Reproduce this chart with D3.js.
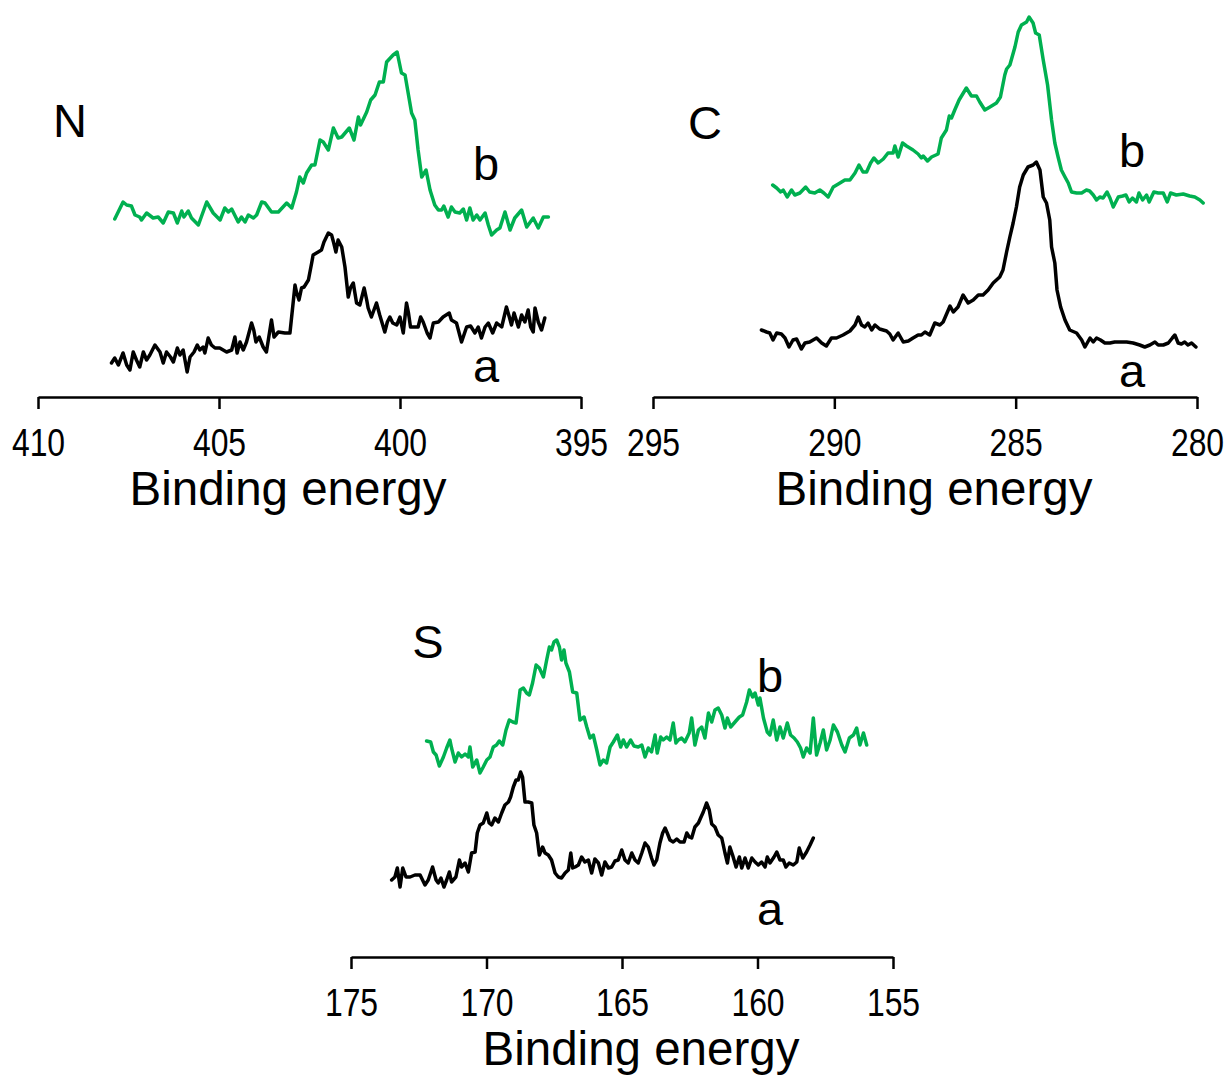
<!DOCTYPE html>
<html>
<head>
<meta charset="utf-8">
<script src="https://cdn.jsdelivr.net/npm/d3@7"></script>
<style>
  html, body { margin: 0; padding: 0; background: #fff; }
  svg { display: block; }
  text { font-family: "Liberation Sans", Arial, sans-serif; fill: #000; }
</style>
</head>
<body>
<svg id="chart" width="1228" height="1080"></svg>
<script>
// ---------- data: [binding energy (eV), intensity (a.u., offset included)] ----------
const nTicks = [410, 405, 400, 395];
const cTicks = [295, 290, 285, 280];
const sTicks = [175, 170, 165, 160, 155];

const nSeriesB = [[407.88,178],[407.65,195],[407.55,192],[407.42,191],[407.32,182],[407.19,180],[407.14,177],[407.00,184],[406.82,179],[406.68,180],[406.54,174],[406.40,185],[406.26,184],[406.15,174],[406.03,186],[405.97,180],[405.85,186],[405.76,179],[405.57,172],[405.34,195],[405.16,184],[404.97,177],[404.84,189],[404.74,185],[404.65,188],[404.47,175],[404.38,180],[404.28,175],[404.19,182],[404.05,179],[403.96,182],[403.82,195],[403.73,194],[403.55,185],[403.36,185],[403.13,194],[402.99,189],[402.86,205],[402.77,220],[402.67,214],[402.58,224],[402.44,232],[402.35,232],[402.21,257],[402.12,255],[401.98,247],[401.84,269],[401.71,259],[401.61,260],[401.40,269],[401.27,257],[401.15,280],[401.09,272],[400.92,285],[400.81,297],[400.69,302],[400.57,315],[400.46,315],[400.37,335],[400.19,342],[400.08,345],[399.96,324],[399.86,322],[399.68,284],[399.59,277],[399.50,247],[399.40,220],[399.28,227],[399.17,207],[399.04,192],[398.94,187],[398.85,187],[398.79,191],[398.67,180],[398.58,190],[398.48,185],[398.35,184],[398.25,188],[398.16,177],[398.07,189],[397.98,177],[397.88,182],[397.79,177],[397.65,184],[397.56,172],[397.47,162],[397.33,167],[397.24,169],[397.10,185],[396.96,167],[396.83,179],[396.64,187],[396.50,170],[396.32,179],[396.18,169],[396.04,180],[395.90,180]];

const nSeriesA = [[407.97,34],[407.88,39],[407.78,32],[407.65,44],[407.55,32],[407.46,27],[407.37,45],[407.28,37],[407.19,30],[407.09,45],[407.00,37],[406.91,42],[406.77,52],[406.63,45],[406.54,34],[406.45,45],[406.34,40],[406.26,35],[406.15,49],[406.08,42],[405.99,47],[405.88,25],[405.80,40],[405.69,45],[405.60,52],[405.53,47],[405.44,50],[405.39,44],[405.30,59],[405.21,52],[405.11,49],[404.98,49],[404.79,45],[404.65,47],[404.56,60],[404.50,44],[404.42,55],[404.33,47],[404.24,55],[404.10,74],[404.04,67],[403.98,55],[403.89,60],[403.78,50],[403.69,45],[403.55,77],[403.48,60],[403.36,65],[403.18,64],[403.04,64],[402.90,112],[402.86,105],[402.79,97],[402.72,109],[402.65,110],[402.53,117],[402.44,134],[402.40,142],[402.26,145],[402.17,147],[402.10,155],[401.98,164],[401.89,162],[401.83,154],[401.77,145],[401.71,157],[401.61,150],[401.52,130],[401.43,100],[401.37,109],[401.29,114],[401.25,105],[401.20,94],[401.11,92],[400.99,109],[400.92,97],[400.88,89],[400.79,80],[400.65,94],[400.56,82],[400.42,65],[400.35,75],[400.28,80],[400.20,74],[400.09,72],[400.00,80],[399.91,64],[399.82,94],[399.77,85],[399.71,70],[399.59,70],[399.50,70],[399.43,80],[399.36,75],[399.25,64],[399.17,59],[399.08,74],[398.94,75],[398.81,80],[398.64,84],[398.58,77],[398.44,74],[398.30,55],[398.16,70],[398.05,71],[397.93,64],[397.84,70],[397.75,59],[397.65,70],[397.56,74],[397.44,64],[397.33,74],[397.19,70],[397.06,90],[396.98,80],[396.92,72],[396.85,84],[396.73,70],[396.64,82],[396.55,75],[396.46,87],[396.39,70],[396.32,65],[396.27,89],[396.18,75],[396.09,67],[396.00,79]];

const cSeriesB = [[291.70,212],[291.59,209],[291.48,205],[291.41,207],[291.30,200],[291.18,207],[291.09,202],[290.95,204],[290.79,210],[290.68,205],[290.54,204],[290.40,207],[290.29,204],[290.17,200],[290.03,210],[289.89,213],[289.71,217],[289.57,217],[289.43,224],[289.32,232],[289.21,225],[289.11,225],[289.00,234],[288.91,239],[288.79,234],[288.65,238],[288.52,244],[288.38,244],[288.33,251],[288.24,240],[288.12,254],[288.01,251],[287.83,247],[287.69,243],[287.60,239],[287.55,241],[287.43,236],[287.32,240],[287.14,243],[287.05,259],[286.91,267],[286.83,281],[286.77,279],[286.68,287],[286.56,297],[286.36,309],[286.22,301],[286.08,301],[285.99,295],[285.85,287],[285.71,290],[285.53,294],[285.42,300],[285.30,322],[285.25,328],[285.16,332],[285.02,350],[284.93,365],[284.84,372],[284.70,375],[284.63,380],[284.52,374],[284.45,364],[284.35,362],[284.24,337],[284.12,312],[284.01,277],[283.92,254],[283.83,240],[283.74,227],[283.64,220],[283.55,214],[283.46,205],[283.32,204],[283.18,204],[283.05,207],[282.96,206],[282.86,202],[282.77,197],[282.68,200],[282.59,199],[282.48,205],[282.40,199],[282.31,190],[282.17,200],[282.05,201],[281.96,202],[281.87,195],[281.78,199],[281.67,195],[281.60,204],[281.50,197],[281.39,202],[281.32,195],[281.19,205],[281.07,204],[280.93,204],[280.82,195],[280.73,204],[280.57,202],[280.38,203],[280.20,201],[280.06,200],[279.92,197],[279.83,194]];

const cSeriesA = [[292.01,67],[291.87,65],[291.78,64],[291.69,57],[291.59,64],[291.46,63],[291.36,59],[291.25,50],[291.14,57],[291.04,58],[290.91,48],[290.81,54],[290.68,55],[290.49,59],[290.35,54],[290.22,51],[290.08,59],[289.94,59],[289.76,62],[289.57,66],[289.43,72],[289.34,80],[289.25,72],[289.16,70],[289.07,74],[288.97,67],[288.88,72],[288.75,68],[288.56,66],[288.47,63],[288.38,57],[288.24,64],[288.10,55],[287.96,56],[287.83,59],[287.69,62],[287.60,62],[287.50,65],[287.37,62],[287.23,74],[287.09,72],[287.00,75],[286.81,91],[286.72,85],[286.59,90],[286.45,102],[286.31,94],[286.17,97],[286.03,102],[285.90,102],[285.76,107],[285.62,114],[285.44,120],[285.35,127],[285.25,145],[285.16,160],[285.07,174],[284.98,190],[284.89,210],[284.79,222],[284.66,230],[284.52,232],[284.43,235],[284.33,227],[284.24,200],[284.15,194],[284.06,177],[284.01,150],[283.92,134],[283.86,107],[283.76,90],[283.64,77],[283.51,67],[283.32,64],[283.18,57],[283.09,50],[282.95,59],[282.86,55],[282.77,59],[282.66,57],[282.54,54],[282.40,54],[282.27,55],[282.13,55],[281.94,55],[281.76,54],[281.58,52],[281.44,50],[281.30,52],[281.16,55],[281.07,52],[280.93,52],[280.79,54],[280.68,59],[280.61,62],[280.52,54],[280.43,53],[280.34,55],[280.25,52],[280.15,54],[280.03,50]];

const sSeriesB = [[172.21,216],[172.06,215],[171.96,205],[171.86,202],[171.74,191],[171.59,200],[171.47,209],[171.35,217],[171.29,209],[171.16,195],[171.04,204],[170.92,200],[170.79,203],[170.67,200],[170.61,210],[170.51,190],[170.36,197],[170.24,184],[170.12,190],[169.99,197],[169.87,200],[169.75,210],[169.63,212],[169.53,216],[169.40,212],[169.28,227],[169.16,237],[169.03,235],[168.91,234],[168.76,267],[168.64,269],[168.52,264],[168.42,262],[168.30,274],[168.17,292],[168.05,289],[167.90,280],[167.78,297],[167.68,310],[167.60,307],[167.51,315],[167.41,317],[167.31,310],[167.23,297],[167.14,307],[167.07,294],[166.94,285],[166.82,265],[166.67,264],[166.55,237],[166.40,240],[166.30,230],[166.18,219],[166.06,222],[165.93,207],[165.81,192],[165.69,197],[165.57,194],[165.44,210],[165.32,215],[165.17,222],[165.05,210],[164.95,217],[164.83,210],[164.68,217],[164.56,211],[164.40,210],[164.27,212],[164.15,200],[164.03,209],[163.91,205],[163.78,222],[163.70,204],[163.57,220],[163.48,217],[163.35,220],[163.23,217],[163.11,234],[163.01,214],[162.92,217],[162.80,219],[162.68,215],[162.52,224],[162.43,239],[162.31,212],[162.18,227],[162.06,230],[161.94,219],[161.81,244],[161.69,235],[161.57,247],[161.45,249],[161.32,242],[161.20,229],[161.11,239],[160.99,230],[160.83,235],[160.67,240],[160.55,242],[160.40,255],[160.30,267],[160.18,260],[160.09,264],[159.97,252],[159.91,259],[159.78,239],[159.64,225],[159.54,222],[159.42,237],[159.29,217],[159.17,230],[159.05,219],[158.90,234],[158.78,222],[158.65,219],[158.53,215],[158.41,209],[158.31,200],[158.19,209],[158.06,204],[157.94,239],[157.82,202],[157.69,214],[157.57,227],[157.45,207],[157.32,217],[157.20,232],[157.05,225],[156.89,212],[156.77,205],[156.61,219],[156.46,222],[156.34,229],[156.22,212],[156.09,224],[155.97,212]];

const sSeriesA = [[173.50,77],[173.38,80],[173.29,89],[173.19,70],[173.09,89],[172.97,80],[172.82,80],[172.64,82],[172.45,82],[172.27,72],[172.15,77],[171.99,90],[171.86,77],[171.78,74],[171.68,79],[171.57,70],[171.47,77],[171.37,85],[171.29,75],[171.13,80],[171.00,97],[170.92,90],[170.79,94],[170.67,85],[170.55,104],[170.42,105],[170.34,124],[170.24,132],[170.12,134],[169.99,144],[169.90,134],[169.81,132],[169.69,139],[169.56,135],[169.44,144],[169.32,152],[169.19,155],[169.11,160],[169.01,170],[168.91,177],[168.83,177],[168.74,185],[168.67,180],[168.58,155],[168.46,155],[168.33,154],[168.25,132],[168.15,124],[168.05,102],[167.93,110],[167.84,104],[167.72,102],[167.60,97],[167.47,84],[167.35,80],[167.23,79],[167.10,84],[166.98,87],[166.89,104],[166.82,89],[166.73,90],[166.61,92],[166.49,100],[166.37,95],[166.24,97],[166.12,84],[166.00,98],[165.87,94],[165.75,82],[165.63,95],[165.50,89],[165.38,90],[165.26,96],[165.14,97],[165.01,107],[164.89,97],[164.77,94],[164.64,104],[164.52,97],[164.40,94],[164.27,104],[164.15,114],[164.03,110],[163.91,99],[163.82,92],[163.72,97],[163.60,114],[163.50,124],[163.41,129],[163.33,124],[163.23,117],[163.11,115],[162.98,118],[162.86,115],[162.71,115],[162.61,124],[162.52,120],[162.43,119],[162.31,130],[162.18,134],[162.10,139],[162.00,145],[161.88,154],[161.78,147],[161.69,133],[161.57,130],[161.45,122],[161.32,119],[161.20,104],[161.11,94],[161.02,110],[160.92,102],[160.79,90],[160.67,100],[160.58,89],[160.46,99],[160.34,89],[160.21,99],[160.09,95],[159.97,92],[159.85,95],[159.72,90],[159.64,100],[159.54,94],[159.39,100],[159.29,105],[159.17,97],[159.05,97],[158.95,90],[158.83,94],[158.68,92],[158.55,95],[158.46,109],[158.33,99],[158.19,105],[158.06,112],[157.94,119]];

// ---------- drawing ----------
const svg = d3.select("#chart");
const GREEN = "#00b050";

const panels = [
  { name: "N", ticks: nTicks, a: nSeriesA, b: nSeriesB,
    x0: 38, x1: 581, axisY: 397,
    title: [53, 137, "start"], bLab: [486, 180], aLab: [486, 382], xLab: 288 },
  { name: "C", ticks: cTicks, a: cSeriesA, b: cSeriesB,
    x0: 653, x1: 1197, axisY: 397,
    title: [705, 139, "middle"], bLab: [1132, 167], aLab: [1132, 387], xLab: 934 },
  { name: "S", ticks: sTicks, a: sSeriesA, b: sSeriesB,
    x0: 351, x1: 893, axisY: 957,
    title: [428, 658, "middle"], bLab: [770, 692], aLab: [770, 925], xLab: 641 }
];

panels.forEach(p => {
  const ext = d3.extent(p.ticks);
  const x = d3.scaleLinear().domain([ext[1], ext[0]]).range([p.x0, p.x1]);
  const y = d3.scaleLinear().domain([0, 400]).range([p.axisY, p.axisY - 400]);

  const g = svg.append("g");

  const axis = d3.axisBottom(x)
    .tickValues(p.ticks)
    .tickSizeInner(12)
    .tickSizeOuter(0)
    .tickFormat(d3.format("d"));

  const ax = g.append("g")
    .attr("transform", `translate(0,${p.axisY})`)
    .call(axis);
  ax.select(".domain").attr("stroke", "#000").attr("stroke-width", 2.5);
  ax.selectAll(".tick line").attr("stroke", "#000").attr("stroke-width", 2.5);
  ax.selectAll(".tick text")
    .attr("dy", null)
    .attr("y", 59)
    .attr("transform", "scale(0.84,1)")
    .attr("fill", "#000")
    .style("font-family", '"Liberation Sans", Arial, sans-serif')
    .style("font-size", "38px");

  g.append("text")
    .attr("x", p.xLab).attr("y", p.axisY + 108)
    .attr("text-anchor", "middle")
    .style("font-size", "47.5px")
    .text("Binding energy");

  const line = d3.line().x(d => x(d[0])).y(d => y(d[1]));

  g.append("path").datum(p.b)
    .attr("d", line)
    .attr("fill", "none").attr("stroke", GREEN)
    .attr("stroke-width", 3.5).attr("stroke-linejoin", "round").attr("stroke-linecap", "round");

  g.append("path").datum(p.a)
    .attr("d", line)
    .attr("fill", "none").attr("stroke", "#000")
    .attr("stroke-width", 3.5).attr("stroke-linejoin", "round").attr("stroke-linecap", "round");

  g.append("text")
    .attr("x", p.title[0]).attr("y", p.title[1])
    .attr("text-anchor", p.title[2])
    .style("font-size", "47px")
    .text(p.name);

  g.append("text")
    .attr("x", p.bLab[0]).attr("y", p.bLab[1])
    .attr("text-anchor", "middle")
    .style("font-size", "47px")
    .text("b");

  g.append("text")
    .attr("x", p.aLab[0]).attr("y", p.aLab[1])
    .attr("text-anchor", "middle")
    .style("font-size", "47px")
    .text("a");
});
</script>
</body>
</html>
